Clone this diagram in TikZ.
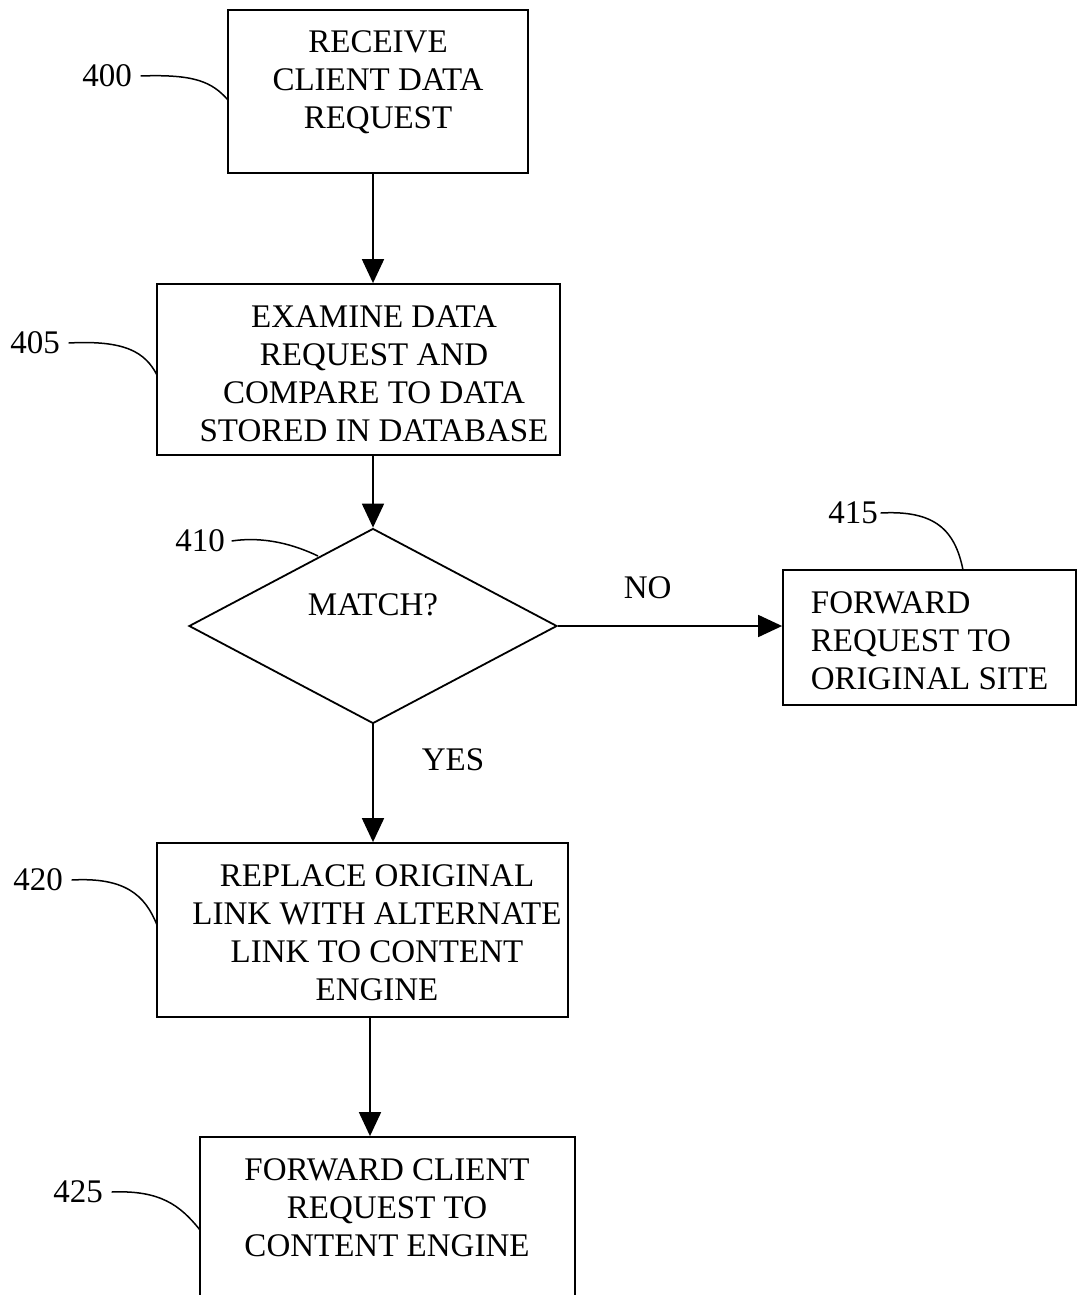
\documentclass[tikz,border=0pt]{standalone}
\usepackage{fontspec}
\setmainfont{Liberation Serif}
\usetikzlibrary{arrows.meta,fit,shapes.geometric}
\begin{document}
\begin{tikzpicture}[x=1pt,y=-1pt, line width=1.8pt,
  box/.style={draw, rectangle, inner sep=0pt},
  txt/.style={align=center, font=\fontsize{33}{38}\selectfont, inner sep=0pt},
  lbl/.style={font=\fontsize{33}{38}\selectfont, inner sep=0pt},
  arr/.style={-{Triangle[length=24pt,width=22pt]}},
  lead/.style={line width=1.5pt}]
\useasboundingbox (0,0) rectangle (1078,1295);
\fill[white] (0,0) rectangle (1078,1295);

% boxes
\node[box, fit={(228,10) (528,173)}] (b400) {};
\node[txt] (t400) at (378,82) {RECEIVE\\CLIENT DATA\\REQUEST};

\node[box, fit={(157,284) (560,455)}] (b405) {};
\node[txt] (t405) at (374,374) {EXAMINE DATA\\REQUEST AND\\COMPARE TO DATA\\STORED IN DATABASE};

\node[draw, shape=diamond, inner sep=0pt, minimum width=368pt, minimum height=195pt] (d410) at (373,626) {};
\node[txt] (t410) at (373,605) {MATCH?};

\node[box, fit={(783,570) (1076,705)}] (b415) {};
\node[txt, align=left, anchor=west] (t415) at (810,641) {FORWARD\\REQUEST TO\\ORIGINAL SITE};

\node[box, fit={(157,843) (568,1017)}] (b420) {};
\node[txt] (t420) at (377,933) {REPLACE ORIGINAL\\LINK WITH ALTERNATE\\LINK TO CONTENT\\ENGINE};

\node[box, fit={(200,1137) (575,1340)}] (b425) {};
\node[txt] (t425) at (387,1208) {FORWARD CLIENT\\REQUEST TO\\CONTENT ENGINE};

% reference labels
\node[lbl] (l400) at (107,76) {400};
\node[lbl] (l405) at (35,343) {405};
\node[lbl] (l410) at (200,541) {410};
\node[lbl] (l415) at (853,513) {415};
\node[lbl] (l420) at (38,880) {420};
\node[lbl] (l425) at (78,1192) {425};

\coordinate (c400) at (228,100);
\coordinate (c405) at (157,375);
\coordinate (c410) at (318,556);
\coordinate (c415) at (963,570);
\coordinate (c420) at (157,925);
\coordinate (c425) at (200,1230);
\coordinate (x370) at (370,0);

\draw[lead] ([xshift=8pt]l400.east) .. controls (195,74) and (212,82) .. (c400);
\draw[lead] ([xshift=8pt]l405.east) .. controls (125,340) and (145,352) .. (c405);
\draw[lead] ([xshift=6pt]l410.east) .. controls (265,536) and (295,545) .. (c410);
\draw[lead] ([xshift=2pt]l415.east) .. controls (935,510) and (955,530) .. (c415);
\draw[lead] ([xshift=8pt]l420.east) .. controls (125,877) and (145,895) .. (c420);
\draw[lead] ([xshift=8pt]l425.east) .. controls (160,1190) and (180,1205) .. (c425);

% connectors
\draw[arr] (b400.south -| d410.north) -- (b405.north -| d410.north);
\draw[arr] (b405.south -| d410.north) -- (d410.north);
\draw[arr] (d410.east) -- node[lbl, above=26pt, pos=0.4] (no) {NO} (b415.west |- d410.east);
\draw[arr] (d410.south) -- node[lbl, right=48pt, pos=0.3] (yes) {YES} (b420.north -| d410.south);
\draw[arr] (b420.south -| x370) -- (b425.north -| x370);
\end{tikzpicture}
\end{document}
